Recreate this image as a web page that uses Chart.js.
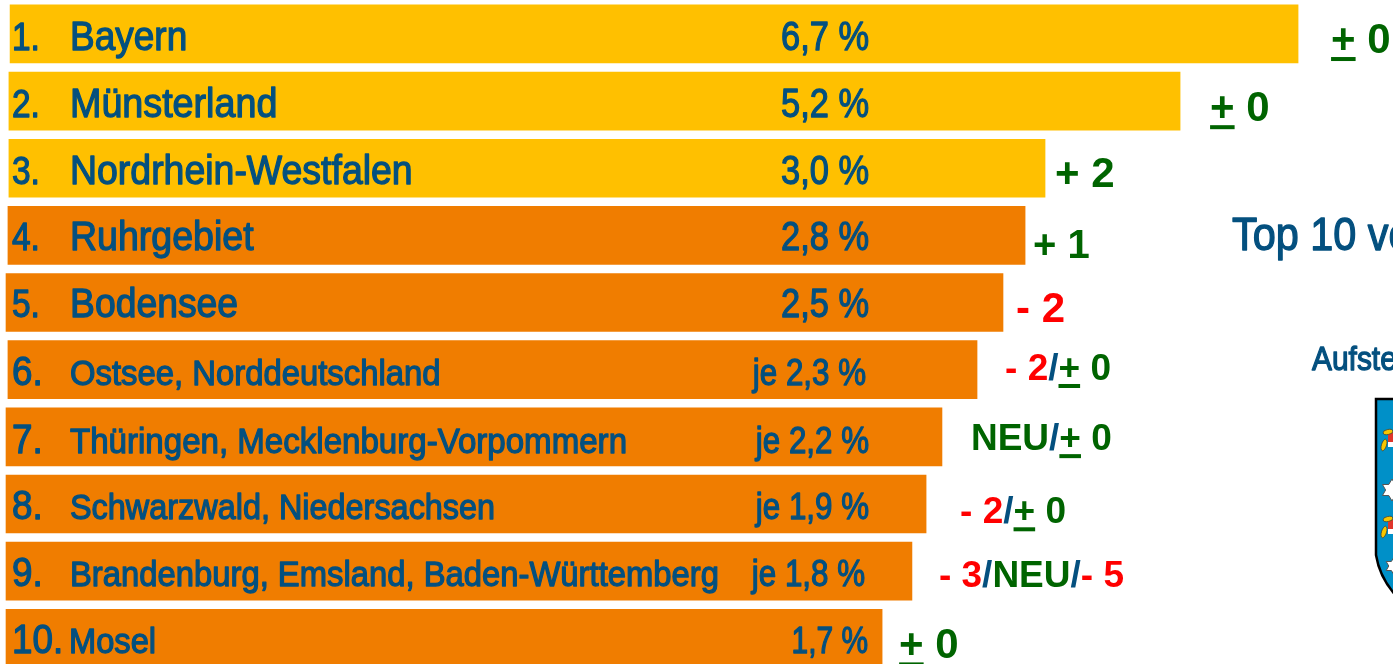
<!DOCTYPE html>
<html>
<head>
<meta charset="utf-8">
<script src="https://cdn.jsdelivr.net/npm/chart.js"></script>
<style>
  html, body { margin: 0; padding: 0; background: #fff; overflow: hidden; }
  canvas { display: block; }
</style>
</head>
<body>
<canvas id="myChart" width="1393" height="664"></canvas>
<script>
const ranks = [1, 2, 3, 4, 5, 6, 7, 8, 9, 10];
const categories = [
  "Bayern", "Münsterland", "Nordrhein-Westfalen", "Ruhrgebiet", "Bodensee",
  "Ostsee, Norddeutschland", "Thüringen, Mecklenburg-Vorpommern",
  "Schwarzwald, Niedersachsen", "Brandenburg, Emsland, Baden-Württemberg", "Mosel"
];
const shareLabels = ["6,7 %", "5,2 %", "3,0 %", "2,8 %", "2,5 %", "je 2,3 %", "je 2,2 %", "je 1,9 %", "je 1,8 %", "1,7 %"];
// the bars in the original are not to scale with their printed share,
// so these are the lengths, in units of the first bar = 6.7
const barStarts = [0.052, 0.046, 0.046, 0.041, 0.031, 0.041, 0.031, 0.031, 0.031, 0.031];
const barEnds = [6.70, 6.091, 5.394, 5.291, 5.177, 5.043, 4.862, 4.780, 4.707, 4.553];
const changes = ["± 0", "± 0", "+ 2", "+ 1", "- 2", "- 2/± 0", "NEU/± 0", "- 2/± 0", "- 3/NEU/- 5", "± 0"];

const BLUE = "#04507f";
const GREEN = "#006400";
const RED = "#ff0000";
const FONT = '"Liberation Sans"';

// text layout per row, relative to the bar it belongs to
const nameSize = [40, 40, 40, 40, 40, 35, 35, 35, 35, 35];
const nameSqueeze = [0.925, 0.942, 0.936, 0.938, 0.933, 0.938, 0.945, 0.926, 0.937, 0.933];
const nameDy = [2, 2, 1, 0, 0, 3, 4, 2, 2, 2];
const shareRight = [869, 869, 869, 869, 869, 866, 869, 869, 865, 868];
const changeGap = [33, 30, 10, 8, 13, 28, 29, 34, 27, 17];
const changeSize = [42, 42, 42, 40, 42, 37, 37, 37, 37, 42];
const changeDy = [4, 5, 4, 8, 4, -3, 0, 6, 3, 5];

function changeParts(str) {
  // "- 3/NEU/- 5" -> coloured pieces
  const parts = [];
  str.split("/").forEach((p, i) => {
    if (i > 0) parts.push({ text: "/", color: BLUE });
    if (p.startsWith("±")) {
      parts.push({ text: "+", color: GREEN, underline: true });
      parts.push({ text: p.slice(1), color: GREEN });
    } else {
      parts.push({ text: p, color: p.startsWith("-") ? RED : GREEN });
    }
  });
  return parts;
}

// Arial Narrow look: regular face squeezed sideways and thickened a little
function narrowText(ctx, text, x, y, size, squeeze, align) {
  ctx.save();
  ctx.translate(x, y);
  ctx.scale(squeeze, 1);
  ctx.font = size + "px " + FONT;
  ctx.textAlign = align;
  ctx.fillStyle = BLUE;
  ctx.strokeStyle = BLUE;
  ctx.lineWidth = 1.3;
  ctx.lineJoin = "round";
  ctx.fillText(text, 0, 0);
  ctx.strokeText(text, 0, 0);
  ctx.restore();
}

function shield(ctx) {
  ctx.save();
  ctx.beginPath();
  ctx.moveTo(1376, 399);
  ctx.lineTo(1400, 399);
  ctx.lineTo(1400, 600);
  ctx.quadraticCurveTo(1380, 580, 1376, 555);
  ctx.closePath();
  ctx.fillStyle = "#0090c8";
  ctx.fill();
  ctx.lineWidth = 2.5;
  ctx.strokeStyle = "#000";
  ctx.stroke();
  // stars
  [[1392, 490, 11], [1394, 566, 9]].forEach(([cx, cy, r]) => {
    ctx.beginPath();
    for (let i = 0; i < 12; i++) {
      const a = i * Math.PI / 6 - Math.PI / 2;
      const rr = i % 2 ? r * 0.58 : r;
      ctx.lineTo(cx + rr * Math.cos(a), cy + rr * Math.sin(a));
    }
    ctx.closePath();
    ctx.fillStyle = "#fff";
    ctx.fill();
    ctx.lineWidth = 1;
    ctx.strokeStyle = "#555";
    ctx.stroke();
  });
  // lion claws
  [[1390, 437], [1390, 524]].forEach(([cx, cy]) => {
    ctx.fillStyle = "#e0352b";
    ctx.fillRect(cx - 2, cy - 4, 8, 9);
    ctx.fillStyle = "#fff";
    ctx.fillRect(cx - 2, cy + 5, 8, 5);
    ctx.fillStyle = "#f7c600";
    ctx.strokeStyle = "#333";
    ctx.lineWidth = 0.7;
    ctx.beginPath();
    ctx.ellipse(cx - 2, cy - 5, 5, 2.5, -0.2, 0, Math.PI * 2);
    ctx.fill();
    ctx.stroke();
    ctx.beginPath();
    ctx.ellipse(cx - 6, cy + 8, 2.5, 6, 0.3, 0, Math.PI * 2);
    ctx.fill();
    ctx.stroke();
  });
  ctx.restore();
}

const rowText = {
  id: "rowText",
  afterDatasetsDraw(chart) {
    const ctx = chart.ctx;
    const xs = chart.scales.x;
    const ys = chart.scales.y;
    ctx.save();
    ctx.textBaseline = "alphabetic";
    ranks.forEach((r, i) => {
      const mid = ys.getPixelForValue(r);
      const base = mid + nameSize[i] * 0.36 + nameDy[i];
      const big = nameSize[i] === 40;

      narrowText(ctx, r + ".", 12, base, big ? 38 : 40, big ? 0.88 : 0.92, "left");
      narrowText(ctx, categories[i], r === 10 ? 69 : 70, base, nameSize[i], nameSqueeze[i], "left");
      narrowText(ctx, shareLabels[i], shareRight[i], base, big ? 40 : 36, big ? 0.86 : (r === 10 ? 0.83 : 0.87), "right");

      ctx.textAlign = "left";
      ctx.font = "bold " + changeSize[i] + "px " + FONT;
      let x = xs.getPixelForValue(barEnds[i]) + changeGap[i];
      const y = mid + changeSize[i] * 0.36 + changeDy[i];
      changeParts(changes[i]).forEach(p => {
        ctx.fillStyle = p.color;
        ctx.fillText(p.text, x, y);
        const w = ctx.measureText(p.text).width;
        if (p.underline) ctx.fillRect(x, y + 4, w, 4);
        x += w;
      });
    });
    ctx.restore();

    narrowText(ctx, "Top 10 ve", 1232, 250, 46, 0.9, "left");
    narrowText(ctx, "Aufste", 1312, 370, 34, 0.88, "left");
    shield(ctx);
  }
};

new Chart(document.getElementById("myChart"), {
  type: "bar",
  plugins: [rowText],
  data: {
    datasets: [{
      data: ranks.map((r, i) => ({ x: [barStarts[i], barEnds[i]], y: r })),
      backgroundColor: ranks.map(r => (r <= 3 ? "#ffc000" : "#f07d00")),
      barThickness: 58,
      borderSkipped: false,
      borderWidth: 0
    }]
  },
  options: {
    indexAxis: "y",
    responsive: false,
    animation: false,
    layout: { padding: 0 },
    plugins: { legend: { display: false }, tooltip: { enabled: false } },
    scales: {
      x: { type: "linear", display: false, min: 0, max: 7.19 },
      y: { type: "linear", display: false, reverse: true, offset: false, min: 0.495, max: 10.383 }
    }
  }
});
</script>
</body>
</html>
